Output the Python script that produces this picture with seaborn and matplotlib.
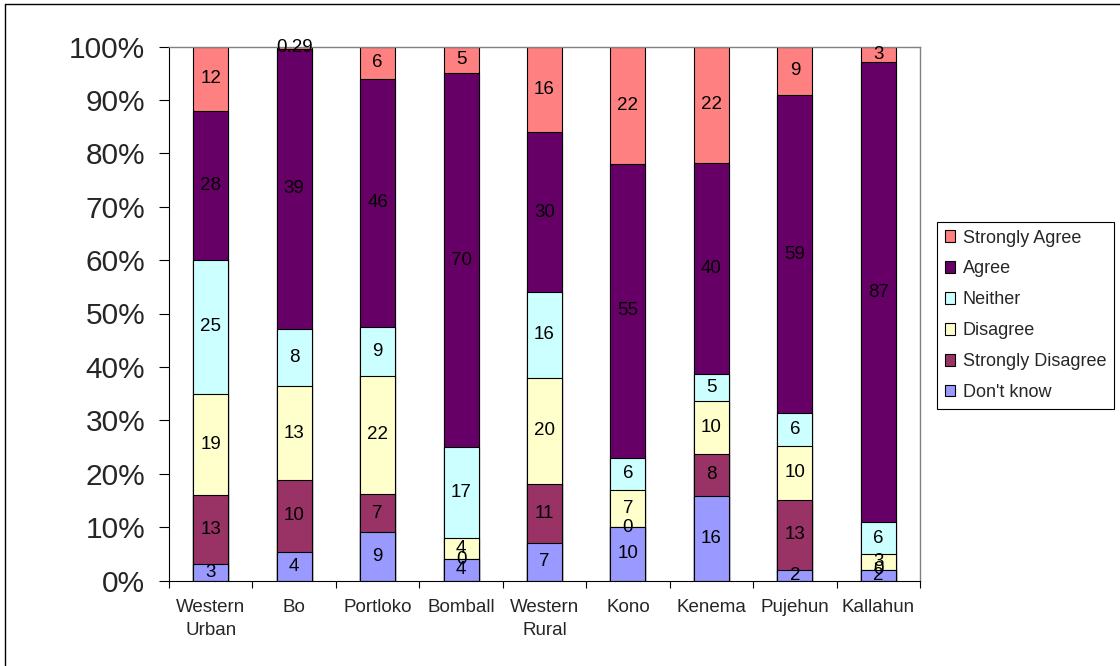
import matplotlib
matplotlib.use("Agg")
import matplotlib.pyplot as plt
import seaborn as sns
import pandas as pd
from matplotlib.ticker import PercentFormatter, FixedLocator
from matplotlib.patches import Patch
from matplotlib.lines import Line2D

regions = ["Western\nUrban", "Bo", "Portloko", "Bomball", "Western\nRural",
           "Kono", "Kenema", "Pujehun", "Kallahun"]
dont_know = [3, 4, 9, 4, 7, 10, 16, 2, 2]
strongly_disagree = [13, 10, 7, 0, 11, 0, 8, 13, 0]
disagree = [19, 13, 22, 4, 20, 7, 10, 10, 3]
neither = [25, 8, 9, 17, 16, 6, 5, 6, 6]
agree = [28, 39, 46, 70, 30, 55, 40, 59, 87]
strongly_agree = [12, 0.29, 6, 5, 16, 22, 22, 9, 3]

levels = ["Don't know", "Strongly Disagree", "Disagree", "Neither", "Agree", "Strongly Agree"]
series = [dont_know, strongly_disagree, disagree, neither, agree, strongly_agree]
colors = {
    "Strongly Agree": "#FF8080",
    "Agree": "#660066",
    "Neither": "#CCFFFF",
    "Disagree": "#FFFFCC",
    "Strongly Disagree": "#993366",
    "Don't know": "#9999FF",
}

# build long table with cumulative percentages
rows = []
totals = [sum(s[i] for s in series) for i in range(len(regions))]
for i, reg in enumerate(regions):
    cum = 0.0
    for lvl, s in zip(levels, series):
        v = s[i]
        pct = v / totals[i] * 100
        rows.append(dict(region=reg, level=lvl, value=v, bottom=cum, top=cum + pct))
        cum += pct
df = pd.DataFrame(rows)

sns.set_style("white")
plt.rcParams["font.family"] = ["Liberation Sans", "DejaVu Sans"]

fig = plt.figure(figsize=(11.2, 6.66), dpi=100)
ax = fig.add_axes([169 / 1120, 1 - 580.5 / 666, (920 - 169) / 1120, (580.5 - 46.5) / 666])

for lvl in reversed(levels):
    sub = df[df.level == lvl]
    sns.barplot(data=sub, x="region", y="top", order=regions, color=colors[lvl],
                saturation=1, width=0.42, edgecolor="black", linewidth=0.8,
                errorbar=None, ax=ax)

for _, r in df.iterrows():
    i = regions.index(r.region)
    ax.text(i, (r.bottom + r.top) / 2, f"{r.value:g}", ha="center", va="center",
            fontsize=13.5, color="black")

ax.set_xlim(-0.5, len(regions) - 0.5)
ax.set_ylim(0, 100)
ax.set_yticks(range(0, 101, 10))
ax.yaxis.set_major_formatter(PercentFormatter(decimals=0))
ax.set_xlabel("")
ax.set_ylabel("")
ax.tick_params(axis="y", which="major", direction="out", length=7, width=0.8,
               labelsize=21.5, pad=10, left=True, color="black")
ax.tick_params(axis="x", which="major", length=0, labelsize=13.5, pad=13)
ax.xaxis.set_minor_locator(FixedLocator([k - 0.5 for k in range(len(regions) + 1)]))
ax.tick_params(axis="x", which="minor", direction="out", length=5, width=0.8,
               bottom=True, color="black")
for lab in ax.get_xticklabels():
    lab.set_linespacing(1.5)

for side in ["left", "bottom"]:
    ax.spines[side].set_color("black")
    ax.spines[side].set_linewidth(0.8)
for side in ["top", "right"]:
    ax.spines[side].set_color("#808080")
    ax.spines[side].set_linewidth(1.0)
ax.grid(False)

handles = [Patch(facecolor=colors[l], edgecolor="black", linewidth=0.8) for l in reversed(levels)]
leg = fig.legend(handles, list(reversed(levels)), loc="upper left",
                 bbox_to_anchor=(937 / 1120, 1 - 222 / 666), fontsize=13,
                 frameon=True, fancybox=False, shadow=False, framealpha=1,
                 edgecolor="black", handlelength=0.6, handleheight=0.6,
                 handletextpad=0.4, labelspacing=0.77, borderpad=0.42,
                 borderaxespad=0)
leg.get_frame().set_linewidth(0.8)

# outer chart border (top and left visible)
fig.add_artist(Line2D([5 / 1120, 1.0], [1 - 4 / 666, 1 - 4 / 666], color="black", lw=1.0))
fig.add_artist(Line2D([5 / 1120, 5 / 1120], [0.0, 1 - 4 / 666], color="black", lw=1.0))

fig.savefig("out.png", dpi=100)
